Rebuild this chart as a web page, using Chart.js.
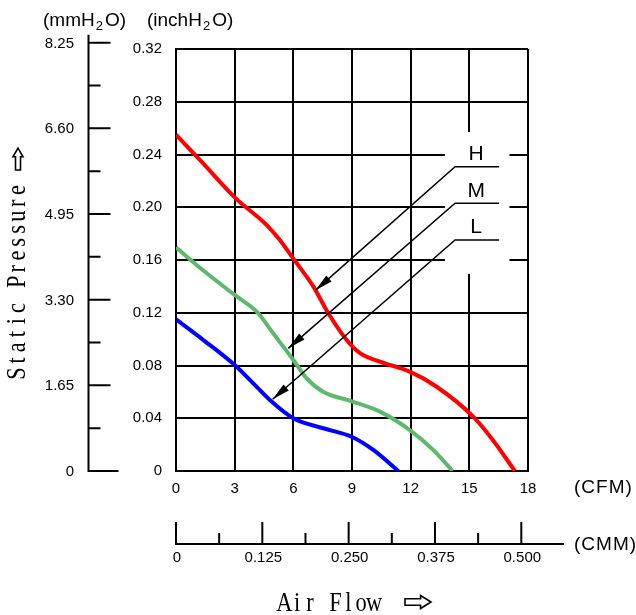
<!DOCTYPE html>
<html>
<head>
<meta charset="utf-8">
<title>Static Pressure / Air Flow</title>
<script src="https://cdn.jsdelivr.net/npm/chart.js@4.4.1/dist/chart.umd.min.js"></script>
<style>
  html, body { margin: 0; padding: 0; background: #fff; }
  #wrap { position: relative; width: 636px; height: 615px; }
</style>
</head>
<body>
<div id="wrap"><canvas id="pq"></canvas></div>
<script>
// axis ticks
const flowTicks = [0, 3, 6, 9, 12, 15, 18];                                   // CFM
const pressureTicks = [0, 0.04, 0.08, 0.12, 0.16, 0.20, 0.24, 0.28, 0.32];   // inchH2O
const mmLabels = ['0', '1.65', '3.30', '4.95', '6.60', '8.25'];               // mmH2O
const cmmLabels = ['0', '0.125', '0.250', '0.375', '0.500'];                 // CMM

// fan curves (CFM, inchH2O) for the three speeds
const highFlow = [0, 1.4, 3.0, 4.64, 5.32, 6.0, 7.02, 7.79, 8.73, 9.41, 10.43, 11.96, 13.33, 15.2, 16.2, 17.33];
const highPressure = [0.255, 0.233, 0.2075, 0.1865, 0.175, 0.161, 0.140, 0.1196, 0.0993, 0.0893, 0.0829, 0.0753, 0.0639, 0.0412, 0.0235, 0];
const midFlow = [0, 1.4, 3.0, 4.13, 4.97, 6.0, 6.68, 7.53, 8.95, 10.43, 11.96, 13.15, 14.15];
const midPressure = [0.1696, 0.152, 0.1335, 0.1208, 0.1044, 0.0842, 0.0703, 0.0601, 0.053, 0.045, 0.031, 0.016, 0];
const lowFlow = [0, 1.4, 3.0, 3.95, 4.8, 6.0, 7.53, 8.98, 10.09, 11.37];
const lowPressure = [0.115, 0.0993, 0.0804, 0.0665, 0.0538, 0.040, 0.0324, 0.026, 0.016, 0];

const speedNames = ['H', 'M', 'L'];
const speedColors = ['#ff0000', '#5fb86e', '#0000ff'];

// speed tags: height of each tag's underline, and the curve point its arrow hits
const tagPressure = [0.2307, 0.2030, 0.1752];
const arrowFlow = [7.13, 5.74, 4.94];
const arrowPressure = [0.137, 0.093, 0.0544];

const MM_PER_INCH = 25.4;
const CMM_PER_CFM = 0.0283168;

const flows = [highFlow, midFlow, lowFlow];
const pressures = [highPressure, midPressure, lowPressure];

const tickFont = { family: '"Liberation Sans Narrow", "Arial Narrow", "Liberation Sans", sans-serif', size: 15 };
const narrow = '15px "Liberation Sans Narrow", "Arial Narrow", "Liberation Sans", sans-serif';

// hollow block arrow pointing along +x, starting at (x, y)
function hollowArrow(ctx, x, y, len, h) {
  const s = h / 4, head = len * 0.4;
  ctx.beginPath();
  ctx.moveTo(x, y - s);
  ctx.lineTo(x + len - head, y - s);
  ctx.lineTo(x + len - head, y - h / 2);
  ctx.lineTo(x + len, y);
  ctx.lineTo(x + len - head, y + h / 2);
  ctx.lineTo(x + len - head, y + s);
  ctx.lineTo(x, y + s);
  ctx.closePath();
  ctx.stroke();
}

// tall narrow serif text, one fixed cell per character
function monoText(ctx, text, x, y, cell) {
  ctx.font = '28px "Liberation Serif", serif';
  ctx.textAlign = 'center';
  ctx.textBaseline = 'alphabetic';
  [...text].forEach((ch, i) => {
    ctx.save();
    ctx.translate(x + (i + 0.5) * cell, y);
    ctx.scale(0.8, 1);
    ctx.fillText(ch, 0, 0);
    ctx.restore();
  });
}

// text with a subscript 2, e.g. (mmH2O)
function waterLabel(ctx, before, x, y) {
  ctx.textAlign = 'left';
  ctx.textBaseline = 'alphabetic';
  ctx.font = '19px "Liberation Sans", Arial, sans-serif';
  ctx.fillText(before, x, y);
  x += ctx.measureText(before).width + 1;
  ctx.font = '13px "Liberation Sans", Arial, sans-serif';
  ctx.fillText('2', x, y + 4);
  x += ctx.measureText('2').width + 2;
  ctx.font = '19px "Liberation Sans", Arial, sans-serif';
  ctx.fillText('O)', x, y);
}

const decorations = {
  id: 'decorations',
  beforeDatasetsDraw(chart) {
    // open the grid behind the speed tags
    const { ctx, scales: { x, y } } = chart;
    const l = x.getPixelForValue(13.75), r = x.getPixelForValue(17.05);
    const t = y.getPixelForValue(0.257), b = y.getPixelForValue(0.1495);
    ctx.save();
    ctx.fillStyle = '#fff';
    ctx.fillRect(l, t, r - l, b - t);
    ctx.restore();
  },
  afterDatasetsDraw(chart) {
    const { ctx, scales: { x, y } } = chart;
    ctx.save();
    ctx.strokeStyle = '#000';
    ctx.fillStyle = '#000';
    ctx.lineWidth = 1.5;
    speedNames.forEach((name, i) => {
      const y0 = y.getPixelForValue(tagPressure[i]);
      const xs = x.getPixelForValue(14.27), xe = x.getPixelForValue(16.52);
      const tx = x.getPixelForValue(arrowFlow[i]), ty = y.getPixelForValue(arrowPressure[i]);
      ctx.beginPath();
      ctx.moveTo(xe, y0);
      ctx.lineTo(xs, y0);
      ctx.lineTo(tx, ty);
      ctx.stroke();
      const a = Math.atan2(ty - y0, tx - xs), len = 18, half = 4;
      const bx = tx - len * Math.cos(a), by = ty - len * Math.sin(a);
      ctx.beginPath();
      ctx.moveTo(tx, ty);
      ctx.lineTo(bx + half * Math.sin(a), by - half * Math.cos(a));
      ctx.lineTo(bx - half * Math.sin(a), by + half * Math.cos(a));
      ctx.closePath();
      ctx.fill();
      ctx.font = '21px "Liberation Sans Narrow", "Arial Narrow", "Liberation Sans", sans-serif';
      ctx.textAlign = 'center';
      ctx.textBaseline = 'alphabetic';
      ctx.fillText(name, x.getPixelForValue(15.35), y0 - 6.5);
    });
    ctx.restore();
  },
  afterDraw(chart) {
    const { ctx, scales: { x, y } } = chart;
    ctx.save();
    ctx.strokeStyle = '#000';
    ctx.fillStyle = '#000';
    ctx.lineWidth = 2;

    // mmH2O ruler
    const mm = mmLabels.map(Number);
    const rx = 88.5;
    const mmPx = v => y.getPixelForValue(v / MM_PER_INCH);
    ctx.beginPath();
    ctx.moveTo(rx, mmPx(mm[mm.length - 1]) - 8);
    ctx.lineTo(rx, y.bottom + 1);
    mm.forEach((v, i) => {
      ctx.moveTo(rx, mmPx(v));
      ctx.lineTo(rx + (i === 0 ? 30 : 22), mmPx(v));
      if (i < mm.length - 1) {
        const m = mmPx((v + mm[i + 1]) / 2);
        ctx.moveTo(rx, m);
        ctx.lineTo(rx + 12, m);
      }
    });
    ctx.stroke();
    ctx.font = narrow;
    ctx.textAlign = 'right';
    ctx.textBaseline = 'middle';
    mmLabels.forEach((t, i) => ctx.fillText(t, 74, mmPx(mm[i]) + 1));

    // CMM ruler
    const cmm = cmmLabels.map(Number);
    const ry = 544;
    const cmmPx = v => x.getPixelForValue(v / CMM_PER_CFM);
    ctx.beginPath();
    ctx.moveTo(x.left - 1, ry);
    ctx.lineTo(564, ry);
    cmm.forEach((v, i) => {
      ctx.moveTo(cmmPx(v), ry);
      ctx.lineTo(cmmPx(v), ry - 22);
      if (i < cmm.length - 1) {
        const m = cmmPx((v + cmm[i + 1]) / 2);
        ctx.moveTo(m, ry);
        ctx.lineTo(m, ry - 11);
      }
    });
    ctx.stroke();
    ctx.textAlign = 'center';
    cmmLabels.forEach((t, i) => ctx.fillText(t, cmmPx(cmm[i]) + 1, ry + 14));

    // units
    waterLabel(ctx, '(mmH', 43, 26);
    waterLabel(ctx, '(inchH', 147, 26);
    ctx.font = '19px "Liberation Sans", Arial, sans-serif';
    ctx.textAlign = 'left';
    ctx.textBaseline = 'middle';
    ctx.letterSpacing = '1px';
    ctx.fillText('(CFM)', 574, 488);
    ctx.fillText('(CMM)', 574, 545);
    ctx.letterSpacing = '0px';

    // axis titles
    ctx.lineWidth = 1.6;
    monoText(ctx, 'Air Flow', 278, 611, 12.8);
    hollowArrow(ctx, 405, 602, 26, 13);
    ctx.save();
    ctx.translate(25, 380);
    ctx.rotate(-Math.PI / 2);
    monoText(ctx, 'Static Pressure', 0, 0, 13.1);
    hollowArrow(ctx, 210, -7, 22, 10);
    ctx.restore();

    ctx.restore();
  }
};

new Chart(document.getElementById('pq'), {
  type: 'line',
  data: {
    datasets: speedNames.map((name, i) => ({
      label: name,
      data: flows[i].map((f, j) => ({ x: f, y: pressures[i][j] })),
      borderColor: speedColors[i],
      borderWidth: 4,
      pointRadius: 0,
      cubicInterpolationMode: 'monotone',
      fill: false
    }))
  },
  options: {
    responsive: true,
    maintainAspectRatio: false,
    animation: false,
    layout: { padding: { left: 126, top: 49, right: 108, bottom: 114 } },
    plugins: { legend: { display: false }, tooltip: { enabled: false } },
    scales: {
      x: {
        type: 'linear',
        min: 0,
        max: 18,
        afterBuildTicks: s => { s.ticks = flowTicks.map(v => ({ value: v })); },
        afterFit: s => { s.height = 30; },
        grid: { color: '#000', lineWidth: 2, drawTicks: false },
        border: { color: '#000', width: 2 },
        ticks: { padding: 9, font: tickFont, color: '#000', maxRotation: 0 }
      },
      y: {
        type: 'linear',
        min: 0,
        max: 0.32,
        afterBuildTicks: s => { s.ticks = pressureTicks.map(v => ({ value: v })); },
        afterFit: s => { s.width = 50; },
        grid: { color: '#000', lineWidth: 2, drawTicks: false },
        border: { color: '#000', width: 2 },
        ticks: {
          padding: 14,
          font: tickFont,
          color: '#000',
          callback: v => (v === 0 ? '0' : v.toFixed(2))
        }
      }
    }
  },
  plugins: [decorations]
});
</script>
</body>
</html>
